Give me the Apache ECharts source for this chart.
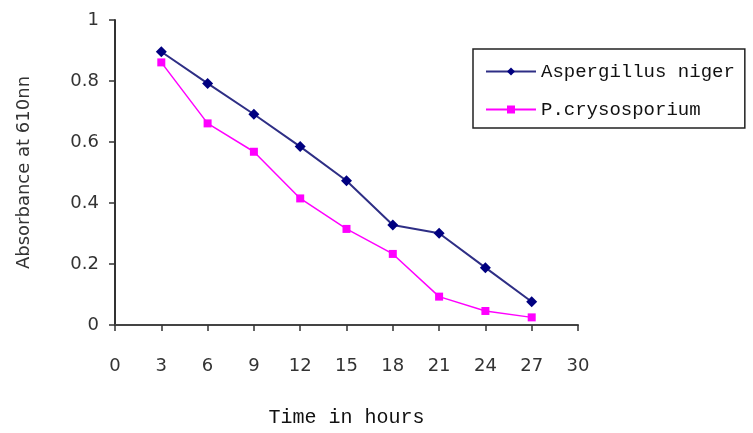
<!DOCTYPE html>
<html>
<head>
<meta charset="utf-8">
<script src="https://cdn.jsdelivr.net/npm/echarts@6/dist/echarts.min.js"></script>
<style>
html,body{margin:0;padding:0;background:#fff;}
#chart{width:753px;height:433px;}
</style>
</head>
<body>
<div id="chart"></div>
<script>
var hours = [3, 6, 9, 12, 15, 18, 21, 24, 27];
var aspergillus = [0.896, 0.792, 0.691, 0.585, 0.473, 0.328, 0.301, 0.188, 0.076];
var crysosporium = [0.861, 0.661, 0.568, 0.415, 0.315, 0.233, 0.093, 0.046, 0.025];
var seriesNames = ['Aspergillus niger', 'P.crysosporium'];
var xTitle = 'Time in hours';
var yTitle = 'Absorbance at 610nn';

function pairs(xs, ys) { return xs.map(function (x, i) { return [x, ys[i]]; }); }

var chart = echarts.init(document.getElementById('chart'));
chart.setOption({
  animation: false,
  backgroundColor: '#fff',
  grid: { left: 115, right: 175, top: 20, bottom: 108, containLabel: false, outerBoundsMode: 'none' },
  legend: {
    orient: 'vertical',
    left: 473, top: 49,
    padding: [13, 10, 9, 12],
    itemGap: 19,
    itemWidth: 50, itemHeight: 10,
    borderColor: '#222', borderWidth: 1.5,
    textStyle: { fontFamily: 'Liberation Mono', fontSize: 19, color: '#111' },
    data: seriesNames
  },
  xAxis: {
    type: 'value', min: 0, max: 30, interval: 3,
    name: xTitle, nameLocation: 'middle', nameGap: 83,
    nameTextStyle: { fontFamily: 'Liberation Mono', fontSize: 20, color: '#111' },
    axisLine: { show: true, onZero: false, lineStyle: { color: '#444', width: 2 } },
    axisTick: { show: true, inside: false, length: 6, lineStyle: { color: '#333', width: 1.5 } },
    axisLabel: { margin: 32, fontFamily: 'DejaVu Sans', fontSize: 18, color: '#333' },
    splitLine: { show: false }
  },
  yAxis: {
    type: 'value', min: 0, max: 1, interval: 0.2,
    name: yTitle, nameLocation: 'middle', nameGap: 82, nameRotate: 90,
    nameTextStyle: { fontFamily: 'DejaVu Sans', fontSize: 18, color: '#333' },
    axisLine: { show: true, lineStyle: { color: '#333', width: 2 } },
    axisTick: { show: true, inside: false, length: 6, lineStyle: { color: '#333', width: 1.5 } },
    axisLabel: { margin: 16, fontFamily: 'DejaVu Sans', fontSize: 18, color: '#333',
      formatter: function (v) { return String(Math.round(v * 10) / 10); } },
    splitLine: { show: false }
  },
  series: [
    {
      name: seriesNames[0], type: 'line', data: pairs(hours, aspergillus),
      symbol: 'diamond', symbolSize: 11,
      itemStyle: { color: '#000080' },
      lineStyle: { color: '#2e2e85', width: 2 }
    },
    {
      name: seriesNames[1], type: 'line', data: pairs(hours, crysosporium),
      symbol: 'rect', symbolSize: 8,
      itemStyle: { color: '#ff00ff' },
      lineStyle: { color: '#ff00ff', width: 1.5 }
    }
  ]
});
</script>
</body>
</html>
